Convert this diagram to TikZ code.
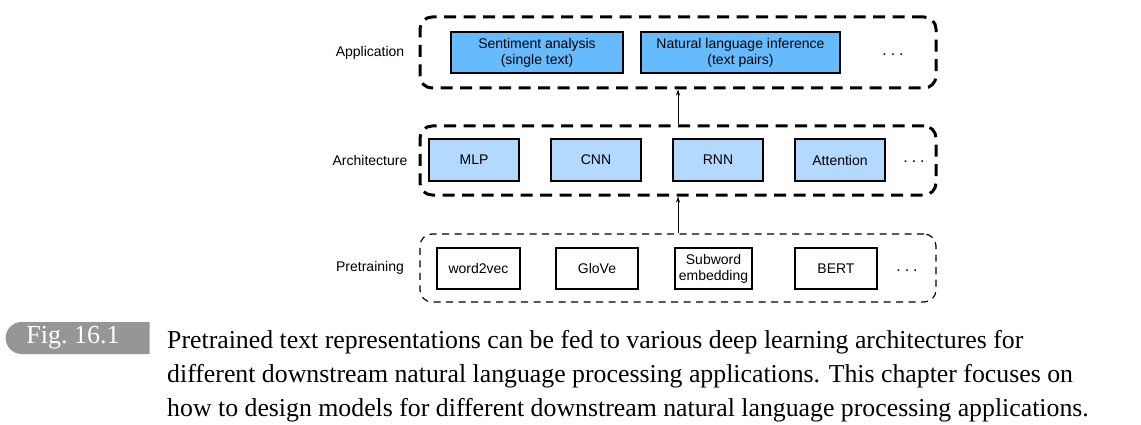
\documentclass[tikz,border=0pt]{standalone}
\usepackage{fontspec}
\setmainfont{Liberation Serif}
\newfontfamily\diagfont{Liberation Sans}
\usepackage{xcolor}
\usetikzlibrary{arrows.meta,shapes.misc}

\definecolor{appblue}{RGB}{102,187,255}
\definecolor{archblue}{RGB}{179,217,255}
\definecolor{figgray}{RGB}{150,150,150}

\begin{document}
\begin{tikzpicture}[x=1pt,y=-1pt,
  layer/.style={draw, rounded corners=12pt, inner sep=0pt, minimum width=516pt},
  heavylayer/.style={layer, line width=3pt, dash pattern=on 12pt off 7.5pt},
  lightlayer/.style={layer, line width=1.2pt, dash pattern=on 7pt off 5.5pt},
  block/.style={draw, line width=1.3pt, inner sep=0pt, align=center,
    font=\diagfont\fontsize{14}{16}\selectfont},
  appbox/.style={block, fill=appblue, minimum height=41pt},
  archbox/.style={block, fill=archblue, minimum width=90pt, minimum height=42pt},
  prebox/.style={block, fill=white, minimum height=41pt},
  rowlabel/.style={font=\diagfont\fontsize{14}{16}\selectfont},
  more/.style={anchor=base, inner sep=0pt, font=\diagfont\fontsize{16}{18}\selectfont},
  flow/.style={-{Stealth[length=6pt,width=4pt]}, line width=1pt},
  captionline/.style={anchor=base west, inner sep=0pt,
    font=\fontsize{25.8}{34}\selectfont}]
\useasboundingbox (0,0) rectangle (1141,425);

% layers
\node (app) [heavylayer, minimum height=71pt] at (678,52.5) {};
\node (arch) [heavylayer, minimum height=69pt] at (678,160.5) {};
\node (pre) [lightlayer, minimum height=68pt] at (678,268) {};

\node (applabel) [rowlabel] at (370,53) {Application};
\node (archlabel) [rowlabel] at (370,160) {Architecture};
\node (prelabel) [rowlabel] at (370,268) {Pretraining};

% application
\node (sentiment) [appbox, minimum width=172pt] at (537,52.5) {Sentiment analysis\\(single text)};
\node (nli) [appbox, minimum width=199pt] at (740.5,52.5) {Natural language inference\\(text pairs)};
\node (appmore) [more] at (893,55.5) {.\hspace{4pt}.\hspace{4pt}.};

% architecture
\node (mlp) [archbox] at (474,160) {MLP};
\node (cnn) [archbox] at (596,160) {CNN};
\node (rnn) [archbox] at (718,160) {RNN};
\node (attention) [archbox] at (840,160) {Attention};
\node (archmore) [more] at (914,163) {.\hspace{4pt}.\hspace{4pt}.};

% pretraining
\node (word2vec) [prebox, minimum width=83pt] at (478.5,268.5) {word2vec};
\node (glove) [prebox, minimum width=82pt] at (597,268.5) {GloVe};
\node (subword) [prebox, minimum width=77pt] at (713.5,268.5) {Subword\\embedding};
\node (bert) [prebox, minimum width=82pt] at (836,268.5) {BERT};
\node (premore) [more] at (907,271) {.\hspace{4pt}.\hspace{4pt}.};

\draw[flow] (pre.north) -- (arch.south);
\draw[flow] (arch.north) -- (app.south);

% caption
\node (figtag) [rounded rectangle, rounded rectangle right arc=none, fill=figgray,
  minimum width=144pt, minimum height=32pt, inner sep=0pt, text=white,
  font=\fontsize{26}{30}\selectfont] at (80,338) {\hspace*{-14pt}Fig.\ 16.1};
\node (cap1) [captionline] at (167,348) {Pretrained text representations can be fed to various deep learning architectures for};
\node (cap2) [captionline] at (167,382) {different downstream natural language processing applications. This chapter focuses on};
\node (cap3) [captionline] at (167,416) {how to design models for different downstream natural language processing applications.};
\end{tikzpicture}
\end{document}
